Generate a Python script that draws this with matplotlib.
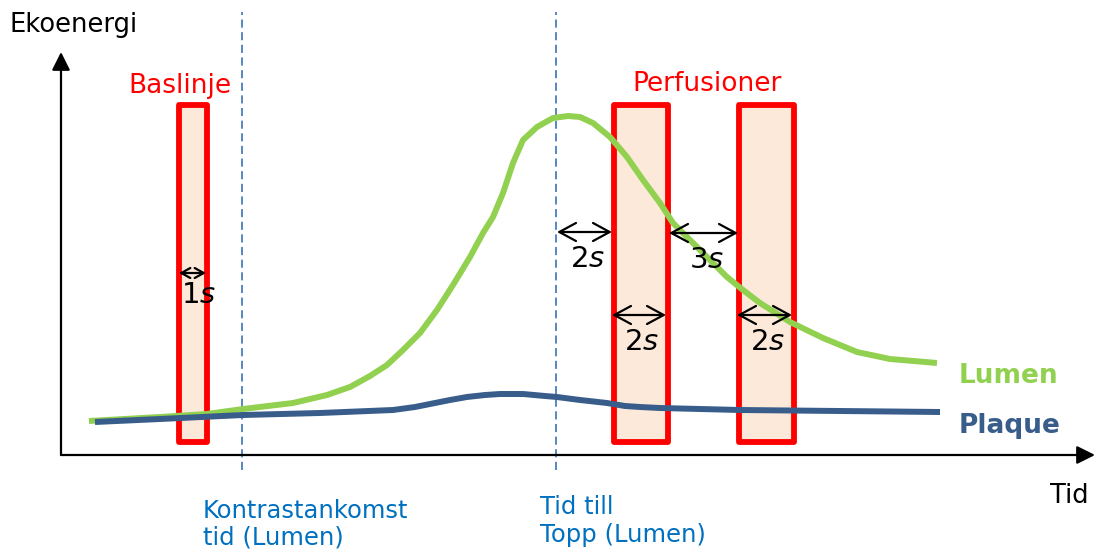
import matplotlib.pyplot as plt
import matplotlib.patches as patches

# echo energy curves (time, energy), arbitrary units
lumen_t = [28, 99, 146, 182, 232, 266, 289, 309, 326, 342, 359, 376, 392, 409,
           422, 432, 442, 452, 462, 476, 492, 507, 519, 532, 549, 566, 582, 599,
           612, 632, 649, 666, 682, 699, 729, 762, 796, 829, 876]
lumen_e = [34, 38, 41, 46, 52, 60, 68, 79, 90, 105, 122, 145, 170, 198,
           222, 238, 262, 292, 315, 328, 337, 339, 338, 332, 318, 298, 275, 252,
           232, 212, 195, 178, 165, 152, 133, 117, 103, 96, 92]

plaque_t = [34, 99, 182, 259, 332, 354, 369, 389, 406, 424, 439, 462, 484, 496,
            519, 546, 564, 579, 599, 639, 679, 779, 879]
plaque_e = [33, 36, 40, 42, 45, 48, 51, 55, 58, 60, 61, 61, 59, 58,
            55, 52, 49, 48, 47, 46, 45, 44, 43]

# sampling windows (start, end)
windows = [(118, 145.5), (552.5, 606.5), (677.5, 732.5)]
win_bottom, win_top = 13, 350

# reference times: contrast arrival, time to peak
t_arrival = 181
t_peak = 495

# interval markers: (start, end, height, label)
intervals = [(118, 145, 182, '1$s$'),
             (496, 551, 223, '2$s$'),
             (608, 677, 222, '3$s$'),
             (551, 605, 140, '2$s$'),
             (676, 731, 140, '2$s$')]

green = '#92D050'
navy = '#385D8A'
red = '#FF0000'
blue = '#0070C0'

fig = plt.figure(figsize=(10.97, 5.49), dpi=100)
ax = fig.add_axes([0, 0, 1, 1])
ax.set_xlim(-61, 1036)
ax.set_ylim(-94, 455)
ax.axis('off')

# axes arrows
for tip in [(0, 403), (1034, 0)]:
    ax.annotate('', xy=tip, xytext=(0, 0),
                arrowprops=dict(arrowstyle='-|>,head_length=11,head_width=5.5',
                                mutation_scale=1, lw=1.6, color='black',
                                shrinkA=0, shrinkB=0))

# dashed reference lines
for t in (t_arrival, t_peak):
    ax.plot([t, t], [-15, 443], color='#4A7EBB', lw=1.3,
            linestyle=(0, (4.5, 2.5)), zorder=1)

# windows
for x0, x1 in windows:
    ax.add_patch(patches.Rectangle((x0, win_bottom), x1 - x0, win_top - win_bottom,
                                   facecolor='#FDE9D9', edgecolor=red, lw=4.2,
                                   joinstyle='round', zorder=2))

ax.plot(lumen_t, lumen_e, color=green, lw=4.3, solid_joinstyle='round',
        solid_capstyle='butt', zorder=3)
ax.plot(plaque_t, plaque_e, color=navy, lw=4.3, solid_joinstyle='round',
        solid_capstyle='butt', zorder=3)

for x0, x1, y, lab in intervals:
    small = (x1 - x0) < 40
    hl, hw = (6.5, 3.6) if small else (12, 6.5)
    ax.annotate('', xy=(x1, y), xytext=(x0, y),
                arrowprops=dict(arrowstyle='<->,head_length=%s,head_width=%s' % (hl, hw),
                                mutation_scale=1, lw=1.6, color='black',
                                shrinkA=0, shrinkB=0), zorder=5)
    if small:
        ax.text((x0 + x1) / 2 + 6, y - 30, lab, fontsize=21,
                ha='center', va='baseline', zorder=5)
    else:
        ax.text((x0 + x1) / 2 + 3, y - 35, lab, fontsize=21,
                ha='center', va='baseline', zorder=5)

ax.text(-51, 423, 'Ekoenergi', fontsize=18.5, va='baseline')
ax.text(989, -48, 'Tid', fontsize=18.5, va='baseline')
ax.text(119, 362, 'Baslinje', fontsize=19, color=red, ha='center', va='baseline')
ax.text(646.5, 364, 'Perfusioner', fontsize=19, color=red, ha='center', va='baseline')

ax.text(142, -63, 'Kontrastankomst', fontsize=17.5, color=blue, va='baseline')
ax.text(142, -90, 'tid (Lumen)', fontsize=17.5, color=blue, va='baseline')
ax.text(479, -59, 'Tid till', fontsize=17.5, color=blue, va='baseline')
ax.text(479, -87, 'Topp (Lumen)', fontsize=17.5, color=blue, va='baseline')

ax.text(898, 72, 'Lumen', fontsize=19, fontweight='bold', color=green, va='baseline')
ax.text(898, 22, 'Plaque', fontsize=19, fontweight='bold', color=navy, va='baseline')

fig.savefig('out.png', dpi=100)
